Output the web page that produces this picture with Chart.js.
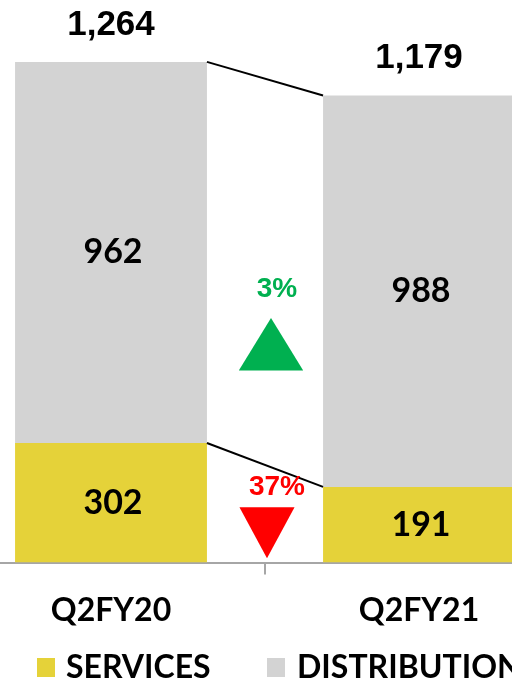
<!DOCTYPE html>
<html>
<head>
<meta charset="utf-8">
<script src="https://cdn.jsdelivr.net/npm/chart.js@4"></script>
<style>
  html, body { margin: 0; padding: 0; background: #fff; }
  #wrap { position: relative; width: 512px; height: 681px; overflow: hidden; }
  #myChart { position: absolute; left: -43px; top: 0; }
  .leg { position: absolute; top: 649px; font: bold 32px Lato, sans-serif; color: #000; line-height: 34px; }
  .leg i { position: absolute; top: 9px; width: 18px; height: 19px; }
</style>
</head>
<body>
<div id="wrap">
  <canvas id="myChart" width="640" height="647"></canvas>
  <div class="leg" style="left:37px"><i style="left:0;background:#E5D239"></i><span style="margin-left:29px">SERVICES</span></div>
  <div class="leg" style="left:267px"><i style="left:0;background:#D3D3D3"></i><span style="margin-left:30px;white-space:nowrap">DISTRIBUTION</span></div>
</div>
<script>
var categories = ['Q2FY20', 'Q2FY21'];
var services = [302, 191];
var distribution = [962, 988];

var myMainChart;

function pct_change(a, b){
    return Math.round(Math.abs((b - a) / a) * 100) + '%';
}

// labels, totals, connector lines and change arrows
var overlay = {
    id: 'overlay',
    afterDatasetsDraw(chart){
        var ctx = chart.ctx;
        var xs = chart.scales.x, ys = chart.scales.y;
        var metaS = chart.getDatasetMeta(0), metaD = chart.getDatasetMeta(1);
        ctx.save();

        ctx.strokeStyle = '#000';
        ctx.lineWidth = 2;
        [metaS, metaD].forEach(function(meta){
            var a = meta.data[0], b = meta.data[1];
            ctx.beginPath();
            ctx.moveTo(a.x + a.width / 2, a.y);
            ctx.lineTo(b.x - b.width / 2, b.y);
            ctx.stroke();
        });

        ctx.textAlign = 'center';
        ctx.textBaseline = 'middle';
        ctx.fillStyle = '#000';
        ctx.font = 'bold 34px Lato';
        [metaS, metaD].forEach(function(meta, di){
            meta.data.forEach(function(bar, i){
                var v = chart.data.datasets[di].data[i];
                ctx.fillText(String(v), bar.x + 2, (bar.y + bar.base) / 2);
            });
        });

        ctx.font = 'bold 35px "Liberation Sans"';
        categories.forEach(function(c, i){
            var total = services[i] + distribution[i];
            var bar = metaD.data[i];
            ctx.fillText(total.toLocaleString('en-US'), bar.x, bar.y - 37);
        });

        var mid = (xs.getPixelForValue(0) + xs.getPixelForValue(1)) / 2;

        // distribution up
        var gy = ys.getPixelForValue(529), r = 35;
        ctx.fillStyle = '#00B050';
        ctx.beginPath();
        ctx.moveTo(mid + 6, gy - r);
        ctx.lineTo(mid + 6 + r * 0.92, gy + r / 2);
        ctx.lineTo(mid + 6 - r * 0.92, gy + r / 2);
        ctx.closePath();
        ctx.fill();
        ctx.font = 'bold 28px "Liberation Sans"';
        ctx.fillText(pct_change(distribution[0], distribution[1]), mid + 12, ys.getPixelForValue(691));

        // services down
        var ry = ys.getPixelForValue(97), r2 = 34;
        ctx.fillStyle = '#FF0000';
        ctx.beginPath();
        ctx.moveTo(mid + 2, ry + r2);
        ctx.lineTo(mid + 2 + r2 * 0.81, ry - r2 / 2);
        ctx.lineTo(mid + 2 - r2 * 0.81, ry - r2 / 2);
        ctx.closePath();
        ctx.fill();
        ctx.fillText(pct_change(services[0], services[1]), mid + 12, ys.getPixelForValue(191));

        ctx.restore();
    }
};

function Drawgraphonfront(){
    var ctx = document.getElementById('myChart').getContext('2d');
    myMainChart = new Chart(ctx, {
        type: 'bar',
        data: {
            labels: categories,
            datasets: [
                { label: 'SERVICES', data: services, backgroundColor: '#E5D239',
                  categoryPercentage: 1, barPercentage: 0.623 },
                { label: 'DISTRIBUTION', data: distribution, backgroundColor: '#D3D3D3',
                  categoryPercentage: 1, barPercentage: 0.623 }
            ]
        },
        options: {
            responsive: false,
            animation: false,
            layout: { padding: { top: 8, right: 24, left: 0, bottom: 0 } },
            scales: {
                x: {
                    stacked: true,
                    grid: { drawOnChartArea: false, drawTicks: true, tickLength: 12, color: '#a6a6a6', lineWidth: 2 },
                    border: { color: '#a6a6a6', width: 2 },
                    ticks: { font: { family: 'Lato', weight: 'bold', size: 32 }, color: '#000', padding: 17 }
                },
                y: { stacked: true, display: false, min: 0, max: 1400 }
            },
            plugins: {
                legend: { display: false },
                tooltip: { enabled: false }
            }
        },
        plugins: [overlay]
    });
}

document.addEventListener('readystatechange', event => {
    if (event.target.readyState === "complete") {
        document.fonts.load('bold 32px Lato').then(Drawgraphonfront, Drawgraphonfront);
    }
});
</script>
</body>
</html>
